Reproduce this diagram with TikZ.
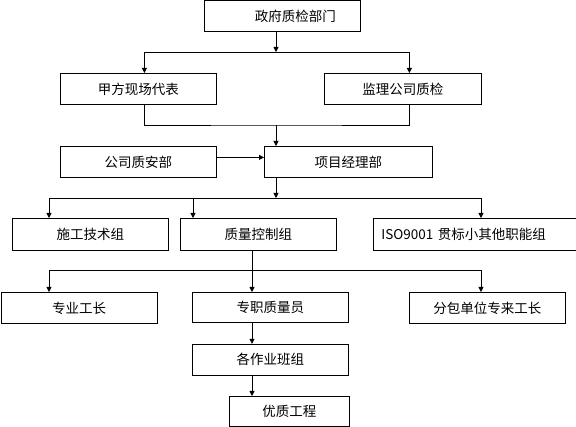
\documentclass[tikz,border=0pt]{standalone}
\usepackage{fontspec}
\newfontfamily\cjk{Noto Sans CJK SC}
\usetikzlibrary{arrows.meta,positioning}

\begin{document}
\begin{tikzpicture}[
  x=1pt, y=-1pt,
  box/.style={draw, line width=0.8pt, anchor=north west, minimum width=156pt,
              minimum height=31pt, inner sep=0pt, font=\cjk\fontsize{13.5}{16}\selectfont},
  arr/.style={-{Triangle[length=5pt,width=5pt]}, line width=0.8pt},
  link/.style={line width=0.8pt}
]
\useasboundingbox (0,0) rectangle (576,427);

\node[box] (gov)     at (204,0.5) {\hspace*{26pt}政府质检部门};
\node[box] (jia)     at (60,73)   {甲方现场代表};
\node[box, minimum width=157pt] (jianli) at (324,73) {监理公司质检};
\node[box] (gongsi)  at (60,146)  {公司质安部};
\node[box, minimum width=168pt] (xiangmu) at (264,146) {项目经理部};

\node[box, minimum height=32pt] (shigong)  at (12,218)  {施工技术组};
\node[box, minimum height=32pt] (zhiliang) at (180,218) {质量控制组};
\node[box, minimum height=32pt, text width=200pt, inner xsep=8pt, align=left] (iso) at (373,218) {ISO9001 贯标小其他职能组};

\node[box, minimum width=156.5pt] (zhuanye)  at (0.5,292) {专业工长};
\node[box, minimum height=30pt]  (zhuanzhi) at (192,292) {专职质量员};
\node[box] (fenbao)  at (409,292) {分包单位专来工长};
\node[box, below=21pt of zhuanzhi] (gezuoye) {各作业班组};
\node[box, minimum width=120pt, minimum height=30pt] (youzhi) at (229,396) {优质工程};

% gov -> jia, jianli
\coordinate (sp1) at (276,52);
\draw[arr] (gov.south -| sp1) -- (sp1);
\draw[arr] (sp1) -| ([xshift=6pt]jia.north);
\draw[arr] (sp1) -| ([xshift=6.5pt]jianli.north);

% jia, jianli -> xiangmu
\coordinate (mg1) at (276,125);
\draw[link] ([xshift=6pt]jia.south) |- (mg1) -| ([xshift=6.5pt]jianli.south);
\draw[arr] (mg1) -- (xiangmu.north -| mg1);
\draw[arr] ([yshift=4.5pt]gongsi.east) -- ([yshift=4.5pt]xiangmu.west);

% xiangmu -> groups
\coordinate (sp2) at (276,198);
\draw[arr] (xiangmu.south -| sp2) -- (sp2);
\draw[arr] (sp2) -| ([xshift=37pt]shigong.north west);
\draw[arr] (sp2) -| ([xshift=13pt]zhiliang.north west);
\draw[arr] (sp2) -| ([xshift=108pt]iso.north west);

% zhiliang -> staff
\coordinate (sp3) at (252,270);
\draw[link] (zhiliang.south -| sp3) -- (sp3);
\draw[arr] (sp3) -| ([xshift=48.5pt]zhuanye.north west);
\draw[arr] (sp3) -- (zhuanzhi.north -| sp3);
\draw[arr] (sp3) -| ([xshift=72pt]fenbao.north west);

% chain down
\draw[arr] (zhuanzhi.south -| sp3) -- (gezuoye.north -| sp3);
\draw[arr] (gezuoye.south -| sp3) -- (youzhi.north -| sp3);

\end{tikzpicture}
\end{document}
